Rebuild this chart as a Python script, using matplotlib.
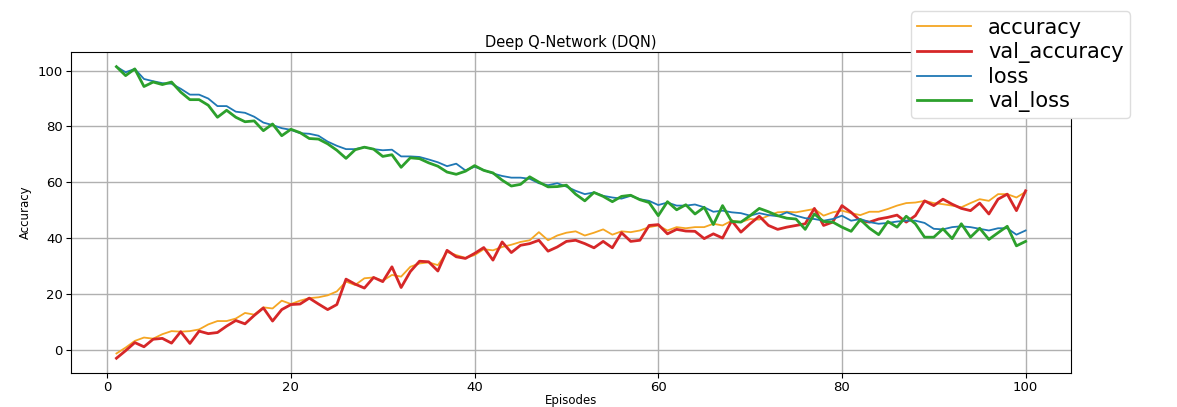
import matplotlib
matplotlib.use("Agg")
import matplotlib.pyplot as plt
import numpy as np

# ==================== 数据 ====================
episodes = list(range(1, 101))

accuracy = [
    -1.2, 0.9, 3.3, 4.5, 4.1, 5.7, 6.8, 6.6, 6.8, 7.4,
    9.2, 10.4, 10.4, 11.3, 13.3, 12.7, 15.3, 14.9, 17.7, 16.5,
    17.7, 18.6, 18.9, 19.6, 21.0, 24.5, 23.3, 25.7, 26.0, 24.8,
    26.9, 26.3, 29.8, 31.0, 31.4, 30.4, 35.1, 34.0, 33.0, 34.0,
    36.1, 35.7, 36.9, 37.7, 38.7, 39.3, 42.2, 39.3, 41.0, 42.0,
    42.5, 41.0, 42.0, 43.2, 41.3, 42.5, 42.2, 42.8, 44.0, 44.6,
    42.8, 44.0, 43.6, 44.0, 44.0, 45.2, 44.6, 46.3, 45.8, 46.9,
    46.7, 48.1, 49.3, 49.5, 49.3, 49.9, 50.5, 48.1, 49.3, 49.9,
    49.0, 48.3, 49.5, 49.5, 50.5, 51.7, 52.6, 52.8, 53.4, 52.6,
    52.2, 51.7, 51.1, 52.6, 54.0, 53.4, 55.8, 55.8, 54.6, 56.6,
]

val_accuracy = [
    -2.9, -0.2, 2.7, 1.2, 3.9, 4.2, 2.5, 6.6, 2.4, 6.8,
    5.9, 6.3, 8.6, 10.6, 9.4, 12.4, 15.1, 10.4, 14.5, 16.3,
    16.5, 18.6, 16.5, 14.5, 16.3, 25.4, 23.6, 22.2, 26.0, 24.5,
    29.8, 22.4, 28.1, 31.8, 31.6, 28.3, 35.7, 33.4, 32.8, 34.6,
    36.7, 32.2, 38.7, 34.9, 37.5, 38.1, 39.3, 35.4, 36.9, 38.9,
    39.3, 38.1, 36.6, 38.9, 36.6, 42.0, 38.9, 39.3, 44.6, 44.9,
    41.6, 43.2, 42.6, 42.5, 39.9, 41.6, 40.1, 46.3, 42.2, 45.2,
    47.9, 44.6, 43.2, 44.0, 44.6, 45.2, 50.7, 44.6, 45.8, 51.7,
    49.3, 46.3, 45.8, 46.9, 47.5, 48.3, 45.8, 48.1, 53.4, 51.7,
    54.0, 52.2, 50.7, 49.9, 52.6, 48.7, 54.0, 55.8, 49.9, 57.0,
]

loss = [
    101.4, 99.4, 100.6, 97.0, 96.2, 95.5, 95.3, 93.5, 91.4, 91.4,
    90.0, 87.3, 87.3, 85.3, 84.9, 83.5, 81.4, 80.5, 79.4, 78.8,
    77.6, 77.4, 76.7, 74.6, 73.1, 71.9, 71.9, 72.6, 71.9, 71.5,
    71.7, 69.3, 69.3, 69.1, 68.2, 67.2, 65.8, 66.7, 64.3, 65.6,
    64.4, 63.2, 62.3, 61.7, 61.7, 61.3, 59.7, 59.0, 59.7, 58.5,
    57.0, 55.8, 56.4, 55.2, 54.6, 54.2, 55.2, 54.0, 53.4, 51.9,
    52.8, 51.7, 51.7, 52.1, 51.1, 49.5, 49.9, 49.3, 49.0, 48.1,
    49.0, 48.3, 47.9, 49.3, 48.1, 47.2, 46.9, 46.3, 46.9, 48.1,
    46.3, 46.9, 45.8, 45.2, 45.5, 46.0, 46.3, 46.3, 45.5, 43.4,
    43.2, 44.0, 44.3, 44.0, 43.4, 42.8, 43.6, 43.6, 41.3, 42.8,
]

val_loss = [
    101.4, 98.2, 100.6, 94.3, 95.9, 95.0, 95.9, 92.3, 89.6, 89.6,
    87.6, 83.3, 85.8, 83.3, 81.7, 82.0, 78.5, 80.9, 76.7, 79.0,
    77.8, 75.7, 75.5, 73.8, 71.5, 68.6, 71.7, 72.6, 71.9, 69.3,
    69.9, 65.4, 68.8, 68.5, 67.0, 65.8, 63.7, 62.9, 64.0, 66.0,
    64.3, 63.4, 60.8, 58.7, 59.3, 62.0, 60.1, 58.4, 58.5, 59.0,
    55.8, 53.4, 56.4, 55.0, 53.1, 55.0, 55.4, 53.8, 52.8, 48.1,
    53.1, 50.2, 52.0, 48.7, 51.1, 44.9, 51.7, 46.0, 45.8, 48.1,
    50.7, 49.5, 48.1, 47.2, 46.9, 43.2, 48.7, 46.0, 45.8, 44.0,
    42.5, 46.7, 43.6, 41.3, 46.0, 44.0, 47.9, 45.2, 40.4, 40.4,
    43.4, 39.9, 45.2, 40.4, 43.6, 39.6, 42.0, 44.3, 37.3, 38.9,
]

# ==================== 绘图 ====================
fig = plt.figure(figsize=(11.77, 4.07), dpi=100, facecolor='white')
ax = fig.add_axes([0.0603, 0.084, 0.8497, 0.788])

ax.plot(episodes, accuracy, color='#f5a623', linewidth=1.3, label='accuracy')
ax.plot(episodes, val_accuracy, color='#d62728', linewidth=2.0, label='val_accuracy')
ax.plot(episodes, loss, color='#1f77b4', linewidth=1.3, label='loss')
ax.plot(episodes, val_loss, color='#2ca02c', linewidth=2.0, label='val_loss')

ax.set_title('Deep Q-Network (DQN)', fontsize=10.5, pad=4)
ax.set_xlabel('Episodes', fontsize=8.5, labelpad=0)
ax.set_ylabel('Accuracy', fontsize=8.5)
ax.tick_params(labelsize=9.5, pad=2.5)
ax.grid(True, color='#b0b0b0', linewidth=1.0)

fig.legend(loc='upper left', bbox_to_anchor=(0.774, 0.972), fontsize=15,
           handlelength=2.6, labelspacing=0.2, borderpad=0.3, borderaxespad=0,
           framealpha=1.0, edgecolor='#dddddd', fancybox=True)

plt.savefig('out.png', dpi=100)
plt.close(fig)
